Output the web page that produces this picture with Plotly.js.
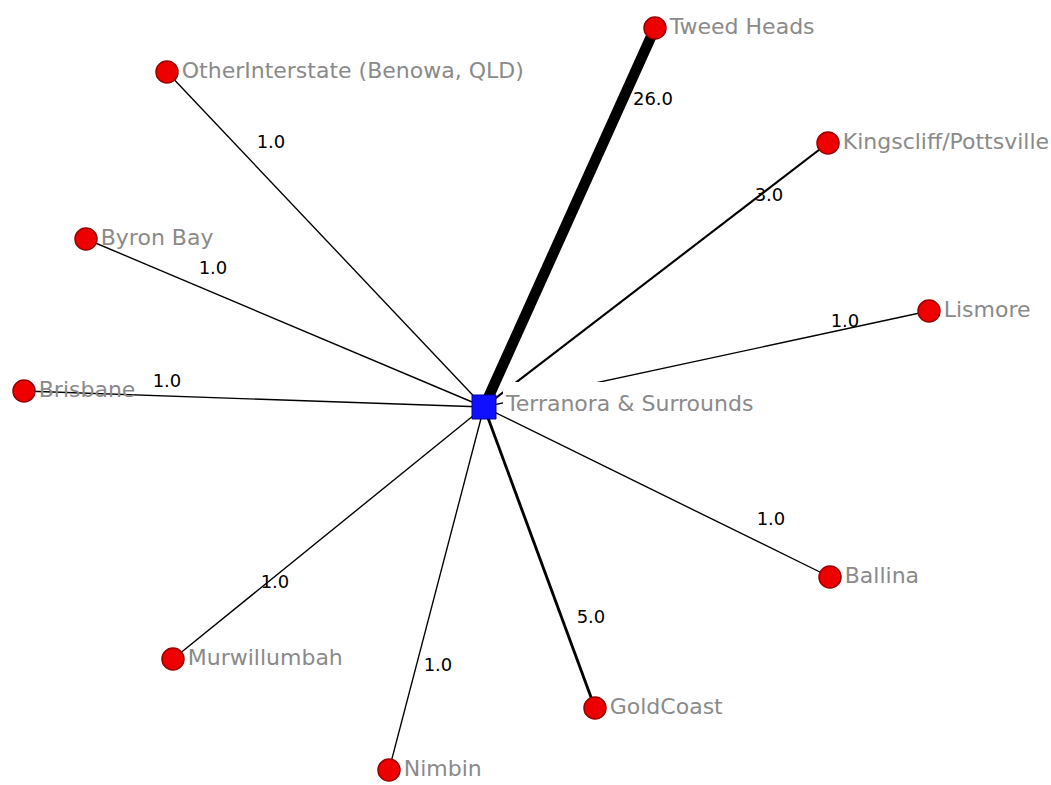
<!DOCTYPE html>
<html>
<head>
<meta charset="utf-8">
<script src="https://cdn.plot.ly/plotly-3.0.1.min.js"></script>
<style>html,body{margin:0;padding:0;background:#fff;}#chart{width:1051px;height:785px;}</style>
</head>
<body>
<div id="chart"></div>
<script>
// Hub node
const hubName = "Terranora & Surrounds";
const hubX = 484;
const hubY = 407;

// Connected nodes (layout coordinates)
const nodeNames = ["Tweed Heads", "Kingscliff/Pottsville", "Lismore", "Ballina", "GoldCoast", "Nimbin", "Murwillumbah", "Brisbane", "Byron Bay", "OtherInterstate (Benowa, QLD)"];
const nodeX = [655, 828, 929, 830, 595, 389, 173, 24, 86, 167];
const nodeY = [28, 143, 311, 577, 708, 770, 659, 391, 239, 72];

// Edge weights (hub -> node)
const weights = [26.0, 3.0, 1.0, 1.0, 5.0, 1.0, 1.0, 1.0, 1.0, 1.0];
const weightLabels = ["26.0", "3.0", "1.0", "1.0", "5.0", "1.0", "1.0", "1.0", "1.0", "1.0"];
// Edge label positions
const edgeLabelX = [653, 769, 845, 771, 591, 438, 275, 167, 213, 271];
const edgeLabelY = [100, 196, 322, 520, 618, 666, 583, 382, 269, 143];

const traces = [];
for (let i = 0; i < nodeNames.length; i++) {
  traces.push({
    type: "scatter", mode: "lines",
    x: [hubX, nodeX[i]], y: [hubY, nodeY[i]],
    line: {color: "#000000", width: 1 + weights[i] * 0.37},
    hoverinfo: "skip", showlegend: false
  });
}
traces.push({
  type: "scatter", mode: "text",
  x: edgeLabelX, y: edgeLabelY, text: weightLabels,
  textfont: {family: "DejaVu Sans", size: 18, color: "#000000"},
  showlegend: false, hoverinfo: "skip"
});
traces.push({
  type: "scatter", mode: "markers+text",
  x: nodeX, y: nodeY, text: nodeNames,
  textposition: "middle right",
  textfont: {family: "DejaVu Sans", size: 22, color: "#8a8a8a"},
  marker: {symbol: "circle", size: 22, color: "#ee0000", line: {color: "#990000", width: 1.5}},
  showlegend: false, hoverinfo: "text"
});
traces.push({
  type: "scatter", mode: "markers",
  x: [hubX], y: [hubY],
  marker: {symbol: "square", size: 24, color: "#1010ff", line: {color: "#0000a0", width: 1}},
  showlegend: false, hoverinfo: "skip"
});

const layout = {
  width: 1051, height: 785,
  margin: {l: 0, r: 0, t: 0, b: 0},
  paper_bgcolor: "#ffffff", plot_bgcolor: "#ffffff",
  xaxis: {range: [0, 1051], visible: false, fixedrange: true},
  yaxis: {range: [785, 0], visible: false, fixedrange: true},
  shapes: [{
    type: "rect", layer: "above", xref: "x", yref: "y",
    x0: 503, x1: 785, y0: 382, y1: 415,
    fillcolor: "#ffffff", line: {width: 0}
  }],
  annotations: [{
    x: 503, y: 403, xref: "x", yref: "y",
    xanchor: "left", yanchor: "middle",
    text: hubName, showarrow: false,
    font: {family: "DejaVu Sans", size: 22, color: "#8a8a8a"}
  }]
};

Plotly.newPlot("chart", traces, layout, {staticPlot: true});
</script>
</body>
</html>
